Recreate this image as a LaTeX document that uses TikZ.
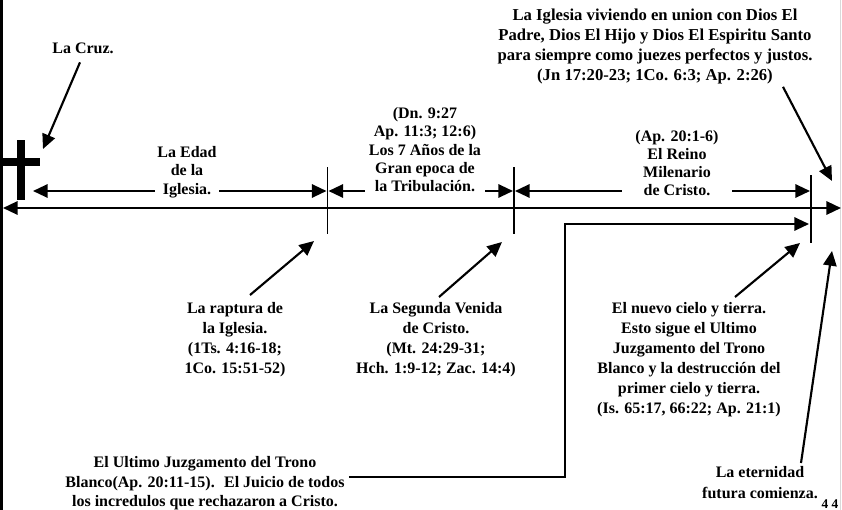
\documentclass[tikz,border=0pt]{standalone}
\usepackage{fontspec}
\setmainfont{Liberation Serif}
\usepackage{tikz}
\tikzstyle{eje}=[line width=1.7pt,{Triangle[length=11pt,width=10pt]}-{Triangle[length=11pt,width=10pt]}]
\tikzstyle{periodo}=[line width=1.6pt,{Triangle[length=11pt,width=10pt]}-{Triangle[length=11pt,width=10pt]}]
\tikzstyle{flecha}=[line width=1.6pt,-{Triangle[length=11pt,width=10pt]}]
\tikzstyle{marca}=[line width=1.1pt]
\tikzstyle{texto}=[inner sep=0pt,align=center,font=\fontsize{12pt}{15pt}\selectfont\bfseries]
\tikzstyle{rotulo}=[texto,fill=white,inner xsep=2pt,font=\fontsize{12pt}{13.8pt}\selectfont\bfseries]
\usetikzlibrary{arrows.meta,positioning}

\begin{document}
\begin{tikzpicture}[x=0.75pt,y=-0.75pt]
            \useasboundingbox (0,0) rectangle (842,510);
            % MARCO
            \draw[line width=1.5pt] (1.5,0) -- (1.5,510);
            \draw[gray!30,line width=0.8pt] (840.5,0) -- (840.5,510);

            % EJE
            \coordinate (izq) at (3,208);
            \coordinate (der) at (841,208);
            \path[eje] (izq) edge (der);

            % la cruz
            \fill (17,140) rectangle (25,200);
            \fill (3,158) rectangle (40,166);

            % marcas
            \coordinate (m1a) at (327.5,167);  \coordinate (m1b) at (327.5,234);
            \coordinate (m2a) at (514,167);    \coordinate (m2b) at (514,234);
            \coordinate (m3a) at (811,175);    \coordinate (m3b) at (811,243);
            \path[marca] (m1a) edge (m1b);
            \path[marca] (m2a) edge (m2b);
            \path[marca] (m3a) edge (m3b);

            % PERIODOS
            \coordinate (p1a) at (33,191);   \coordinate (p1b) at (326.5,191);
            \coordinate (p2a) at (328.5,191); \coordinate (p2b) at (513,191);
            \coordinate (p3a) at (515,191);  \coordinate (p3b) at (810,191);
            \path[periodo] (p1a) edge (p1b);
            \path[periodo] (p2a) edge (p2b);
            \path[periodo] (p3a) edge (p3b);

            \node[rotulo,anchor=north,font=\fontsize{12pt}{13.9pt}\selectfont\bfseries] (edad) at (187,146) {La Edad\\de la\\Iglesia.};
            \node[rotulo,anchor=north,inner xsep=3pt] (trib) at (425,107) {(Dn. 9:27\\Ap. 11:3; 12:6)\\Los 7 Años de la\\Gran epoca de\\la Tribulación.};
            \node[rotulo,anchor=north,inner xsep=10pt,font=\fontsize{12pt}{13.5pt}\selectfont\bfseries] (reino) at (677,130) {(Ap. 20:1-6)\\El Reino\\Milenario\\de Cristo.};

            % TEXTOS
            \node[texto,anchor=north] (cruz) at (83,43) {La Cruz.};
            \node[texto,anchor=north,font=\fontsize{12.5pt}{14.8pt}\selectfont\bfseries] (iglesia) at (655,9) {La Iglesia viviendo en union con Dios El\\Padre, Dios El Hijo y Dios El Espiritu Santo\\para siempre como juezes perfectos y justos.\\(Jn 17:20-23; 1Co. 6:3; Ap. 2:26)};
            \node[texto,anchor=north] (rap) at (235,302) {La raptura de\\la Iglesia.\\(1Ts. 4:16-18;\\1Co. 15:51-52)};
            \node[texto,anchor=north] (seg) at (436,302) {La Segunda Venida\\de Cristo.\\(Mt. 24:29-31;\\Hch. 1:9-12; Zac. 14:4)};
            \node[texto,anchor=north] (nuevo) at (689,302) {El nuevo cielo y tierra.\\Esto sigue el Ultimo\\Juzgamento del Trono\\Blanco y la destrucción del\\primer cielo y tierra.\\(Is. 65:17, 66:22; Ap. 21:1)};
            \node[texto,anchor=north,font=\fontsize{12pt}{14.8pt}\selectfont\bfseries] (ult) at (205,456) {El Ultimo Juzgamento del Trono\\Blanco(Ap. 20:11-15).~ El Juicio de todos\\los incredulos que rechazaron a Cristo.};
            \node[texto,anchor=north,font=\fontsize{12pt}{15.5pt}\selectfont\bfseries] (eter) at (760,466) {La eternidad\\futura comienza.};
            \node[texto,anchor=north,font=\fontsize{10pt}{12pt}\selectfont\bfseries] (pag) at (830,499) {4 4};

            % FLECHAS
            \coordinate (cruzpt) at (43,149);
            \coordinate (iglesiapt) at (832,181);
            \coordinate (rappt) at (314,241);
            \coordinate (segpt) at (502,242);
            \coordinate (nuevopt) at (800,243);
            \coordinate (eterpt) at (832,251);
            \coordinate (esq) at (565,224);
            \coordinate (juiciopt) at (809,224);

            \path[flecha] ([shift={(-3,8)}]cruz.south) edge (cruzpt);
            \path[flecha] ([shift={(128,3)}]iglesia.south) edge (iglesiapt);
            \path[flecha] ([shift={(15,-7)}]rap.north) edge (rappt);
            \path[flecha] ([shift={(3,-5)}]seg.north) edge (segpt);
            \path[flecha] ([shift={(46,-5)}]nuevo.north) edge (nuevopt);
            \path[flecha] ([shift={(41,-3)}]eter.north) edge (eterpt);

            % juicio final
            \draw[flecha,line width=1.5pt] ([shift={(4,-6)}]ult.east) -| (esq) -- (juiciopt);

\end{tikzpicture}
\end{document}
